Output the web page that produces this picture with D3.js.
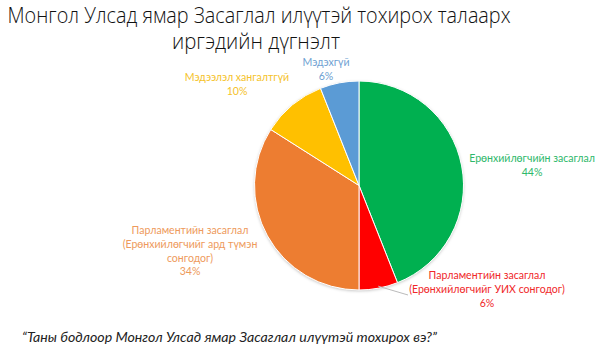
<!doctype html>
<html>
<head>
  <meta charset="utf-8">
  <script src="https://d3js.org/d3.v7.min.js"></script>
  <style>
    body { margin: 0; background: #fff; }
    text { font-family: Lato, sans-serif; }
  </style>
</head>
<body>
  <svg id="chart" width="603" height="353"></svg>
  <script>
    // data
    var categories = [
      ["Ерөнхийлөгчийн засаглал"],
      ["Парламентийн засаглал", "(Ерөнхийлөгчийг УИХ сонгодог)"],
      ["Парламентийн засаглал", "(Ерөнхийлөгчийг ард түмэн", "сонгодог)"],
      ["Мэдээлэл хангалтгүй"],
      ["Мэдэхгүй"]
    ];
    var values = [44, 6, 34, 10, 6];
    var colors = ["#00B050", "#FF0000", "#ED7D31", "#FFC000", "#5B9BD5"];
    var labelColors = ["#2EB86A", "#F0282A", "#EE9A5C", "#F5C22A", "#6E9FD2"];
    // label anchor points (centre of text block, first line baseline)
    var labelPos = [[532, 162], [487, 279], [190, 234], [237, 81], [326, 66]];

    var svg = d3.select("#chart");

    // shrink/grow a text so its width matches the picture
    function fit(sel, w) {
      var fs = parseFloat(sel.style("font-size"));
      var cur = sel.node().getComputedTextLength();
      sel.style("font-size", (fs * w / cur).toFixed(2) + "px");
    }

    // title: narrow face, so squeeze a taller font into the measured width
    svg.append("text")
      .attr("x", 259).attr("y", 23)
      .attr("text-anchor", "middle")
      .attr("fill", "#111")
      .attr("textLength", 503)
      .attr("lengthAdjust", "spacingAndGlyphs")
      .style("font-family", "'Open Sans', sans-serif")
      .style("font-size", "22.5px")
      .style("font-weight", "300")
      .text("Монгол Улсад ямар Засаглал илүүтэй тохирох талаарх");
    svg.append("text")
      .attr("x", 256).attr("y", 49)
      .attr("text-anchor", "middle")
      .attr("fill", "#111")
      .attr("textLength", 168)
      .attr("lengthAdjust", "spacingAndGlyphs")
      .style("font-family", "'Open Sans', sans-serif")
      .style("font-size", "22.5px")
      .style("font-weight", "300")
      .text("иргэдийн дүгнэлт");

    var cx = 359, cy = 185.5, r = 104.5;

    var pie = d3.pie().sort(null).value(d => d);
    var arcs = pie(values);
    var arc = d3.arc().innerRadius(0).outerRadius(r);

    var defs = svg.append("defs");
    var f = defs.append("filter").attr("id", "sh")
      .attr("x", "-20%").attr("y", "-20%").attr("width", "140%").attr("height", "140%");
    f.append("feDropShadow").attr("dx", 0).attr("dy", 1).attr("stdDeviation", 1.5)
      .attr("flood-color", "#000").attr("flood-opacity", 0.25);

    var g = svg.append("g").attr("transform", "translate(" + cx + "," + cy + ")");
    g.append("circle").attr("r", r).attr("fill", "#fff").attr("filter", "url(#sh)");
    g.selectAll("path")
      .data(arcs)
      .enter()
      .append("path")
      .attr("d", arc)
      .attr("fill", (d, i) => colors[i])
      .attr("stroke", "#fff")
      .attr("stroke-width", 1);

    // leader line for the small red slice
    var mid = (arcs[1].startAngle + arcs[1].endAngle) / 2;
    var p0 = [cx + Math.sin(mid) * (r - 2), cy - Math.cos(mid) * (r - 2)];
    svg.append("polyline")
      .attr("points", [p0, [408, 295]].map(p => p.join(",")).join(" "))
      .attr("fill", "none")
      .attr("stroke", "#bbb")
      .attr("stroke-width", 1);

    // labels, size taken from the green one
    var probe = svg.append("text").style("font-size", "11px").text(categories[0][0]);
    fit(probe, 121);
    var lfs = (parseFloat(probe.style("font-size")) + 0.4) + "px";
    probe.remove();

    arcs.forEach(function (d, i) {
      var lines = categories[i].concat([values[i] + "%"]);
      var t = svg.append("text")
        .attr("text-anchor", "middle")
        .attr("fill", labelColors[i])
        .style("font-size", lfs);
      lines.forEach(function (l, k) {
        t.append("tspan")
          .attr("x", labelPos[i][0])
          .attr("y", labelPos[i][1] + k * 13.8)
          .text(l);
      });
    });

    // question note
    var note = svg.append("text")
      .attr("x", 22).attr("y", 342)
      .attr("fill", "#222")
      .style("font-size", "13px")
      .style("font-style", "italic")
      .text("“Таны бодлоор Монгол Улсад ямар Засаглал илүүтэй тохирох вэ?”");
    fit(note, 415);
  </script>
</body>
</html>
